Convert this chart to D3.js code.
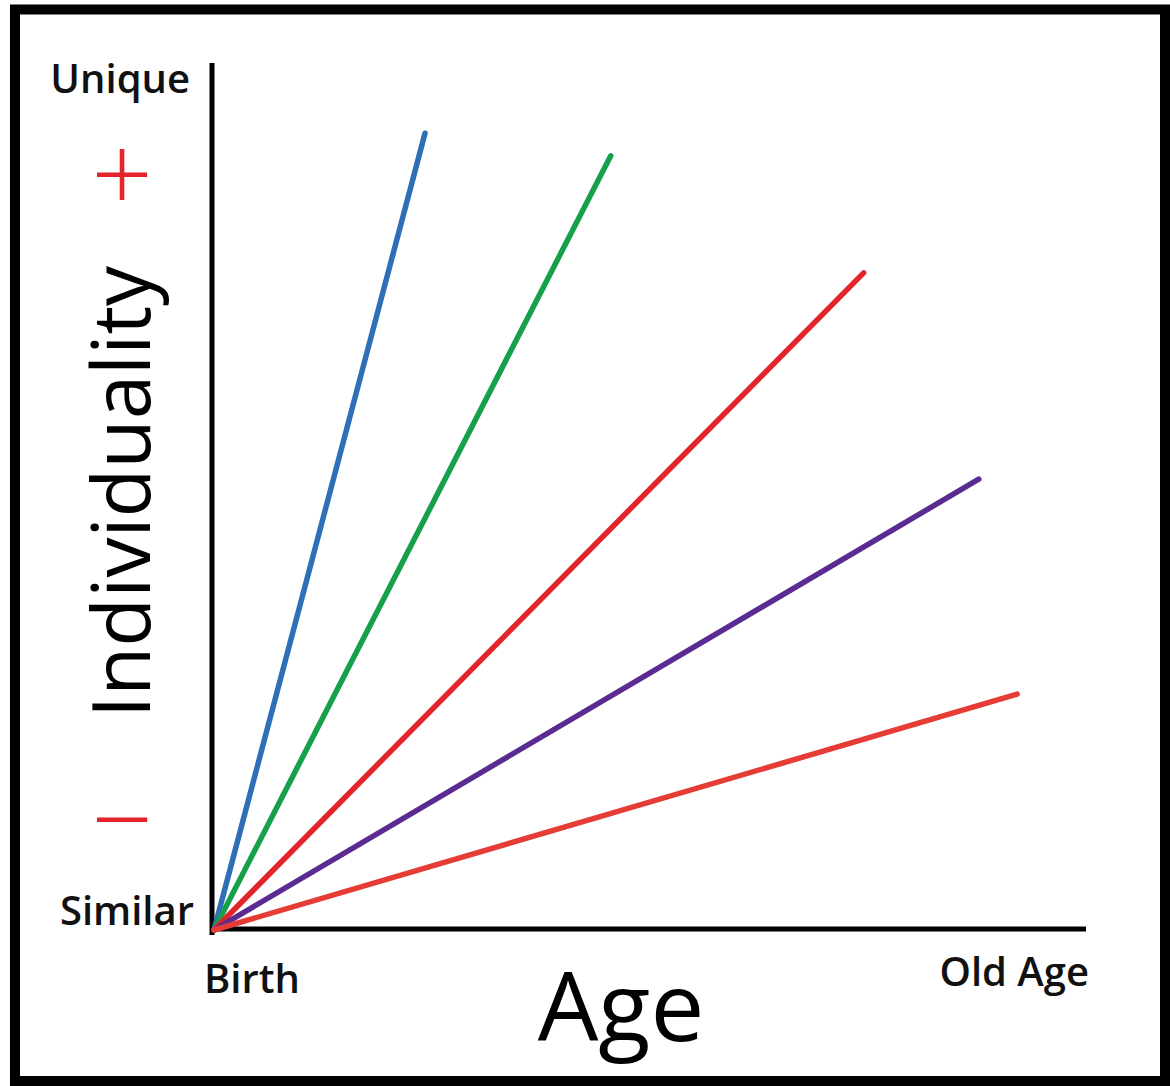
<!DOCTYPE html>
<html><head><meta charset="utf-8">
<script src="https://cdn.jsdelivr.net/npm/d3@7"></script>
<style>html,body{margin:0;padding:0;background:#fff;}svg{display:block;}</style>
</head><body>
<script>
// Data
const seriesNames = ["blue", "green", "red", "purple", "red2"];
const seriesColors = ["#2e6fb7", "#17a04c", "#e3242b", "#5a2c92", "#e53d36"];
const startAge = [0, 0, 0, 0, 0];
const startIndiv = [0, 0, 0, 0, 0];
const endAge = [24.2, 45.5, 74.5, 87.7, 92.1];
const endIndiv = [91.9, 89.3, 75.8, 52.0, 27.2];
const xTickLabels = ["Birth", "Old Age"];
const yTickLabels = ["Similar", "Unique"];
const xTitle = "Age";
const yTitle = "Individuality";
const signLabels = ["+", "\u2212"];
const signValues = [86.9, 12.4];

const W = 1170, H = 1086;
const svg = d3.select("body").append("svg").attr("width", W).attr("height", H);

// frame
svg.append("rect").attr("x", 15).attr("y", 9.5).attr("width", 1150).attr("height", 1071.5)
  .attr("fill", "#fff").attr("stroke", "#000").attr("stroke-width", 10);

const x = d3.scaleLinear().domain([0, 100]).range([214, 1086]);
const y = d3.scaleLinear().domain([0, 100]).range([930, 63]);

// axes
svg.append("line").attr("x1", 212).attr("x2", 212).attr("y1", y(100)).attr("y2", 935)
  .attr("stroke", "#000").attr("stroke-width", 5);
svg.append("line").attr("x1", 210).attr("x2", x(100)).attr("y1", 929).attr("y2", 929)
  .attr("stroke", "#000").attr("stroke-width", 5);

// series lines
const line = d3.line().x(d => x(d[0])).y(d => y(d[1]));
seriesNames.forEach((n, i) => {
  svg.append("path")
    .attr("d", line([[startAge[i], startIndiv[i]], [endAge[i], endIndiv[i]]]))
    .attr("fill", "none").attr("stroke", seriesColors[i]).attr("stroke-width", 5.5)
    .attr("stroke-linecap", "round");
});

const lab = "'Open Sans', sans-serif";
const fs = 40;
// y tick labels
svg.append("text").attr("x", 194).attr("y", 925).attr("text-anchor", "end")
  .attr("font-family", lab).attr("font-weight", 600).attr("font-size", fs).attr("fill", "#111").text(yTickLabels[0]);
svg.append("text").attr("x", 190).attr("y", 93).attr("text-anchor", "end")
  .attr("font-family", lab).attr("font-weight", 600).attr("font-size", fs).attr("fill", "#111").text(yTickLabels[1]);
// x tick labels
svg.append("text").attr("x", 204).attr("y", 993).attr("text-anchor", "start")
  .attr("font-family", lab).attr("font-weight", 600).attr("font-size", fs).attr("fill", "#111").text(xTickLabels[0]);
svg.append("text").attr("x", 1089).attr("y", 986).attr("text-anchor", "end")
  .attr("font-family", lab).attr("font-weight", 600).attr("font-size", fs).attr("fill", "#111").text(xTickLabels[1]);

// titles
svg.append("text").attr("x", 621).attr("y", 1041).attr("text-anchor", "middle")
  .attr("font-family", lab).attr("font-weight", 400).attr("font-size", 96).attr("fill", "#000").text(xTitle);
svg.append("text").attr("transform", "translate(150,492) rotate(-90)").attr("text-anchor", "middle")
  .attr("font-family", lab).attr("font-weight", 400).attr("font-size", 80).attr("fill", "#000").text(yTitle);

// signs
signLabels.forEach((s, i) => {
  svg.append("text").attr("x", 122).attr("y", y(signValues[i]) + 36).attr("text-anchor", "middle")
    .attr("font-family", lab).attr("font-weight", 300).attr("font-size", 108).attr("fill", "#e3242b").text(s);
});
</script>
</body></html>
